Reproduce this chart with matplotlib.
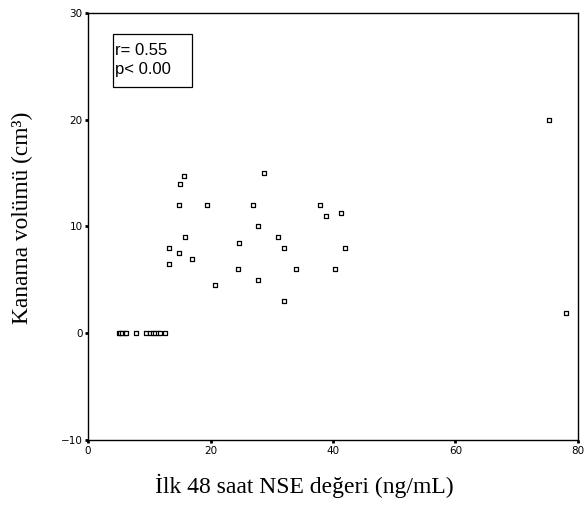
import matplotlib
matplotlib.use("Agg")
import matplotlib.pyplot as plt
from matplotlib.patches import Rectangle

nse = [15.7, 15.1, 14.9, 19.4, 26.9, 28.7, 37.9, 38.8, 41.3, 27.8, 15.9, 31.1,
       24.7, 13.2, 32.0, 42.0, 14.9, 17.0, 13.2, 24.5, 34.0, 40.4, 27.8, 20.8,
       32.0, 75.2, 78.1,
       5.0, 5.3, 5.6, 6.0, 6.2, 7.9, 9.5, 10.2, 10.6, 11.0, 11.4, 11.8, 12.5]
volume = [14.7, 14.0, 12.0, 12.0, 12.0, 15.0, 12.0, 11.0, 11.3, 10.0, 9.0, 9.0,
          8.5, 8.0, 8.0, 8.0, 7.5, 7.0, 6.5, 6.0, 6.0, 6.0, 5.0, 4.5,
          3.0, 20.0, 1.9,
          0, 0, 0, 0, 0, 0, 0, 0, 0, 0, 0, 0, 0]
x_ticks = [0, 20, 40, 60, 80]
y_ticks = [-10, 0, 10, 20, 30]

fig = plt.figure(figsize=(5.84, 5.05), dpi=100)
ax = fig.add_axes([0.1507, 0.1287, 0.8390, 0.8456])
ax.scatter(nse, volume, marker='s', s=11, facecolors='white', edgecolors='black',
           linewidths=0.9, zorder=3)
ax.set_xlim(0, 80)
ax.set_ylim(-10, 30)
ax.set_xticks(x_ticks)
ax.set_yticks(y_ticks)
ax.tick_params(direction='out', length=2, width=2, labelsize=7.5, pad=2)
for s in ax.spines.values():
    s.set_linewidth(1.0)
fig.text(0.521, 0.038, 'İlk 48 saat NSE değeri (ng/mL)', family='Liberation Serif',
         fontsize=17, ha='center', va='center')
fig.text(0.038, 0.568, 'Kanama volümü (cm³)', family='Liberation Serif',
         fontsize=16.8, ha='center', va='center', rotation=90)
ax.add_patch(Rectangle((0.051, 0.827), 0.161, 0.124, transform=ax.transAxes,
                       facecolor='white', edgecolor='black', linewidth=0.9, zorder=4))
ax.text(0.055, 0.930, 'r= 0.55\np< 0.00', transform=ax.transAxes, va='top', ha='left',
        family='Liberation Sans', fontsize=12, linespacing=1.35, zorder=5)
fig.savefig('out.png', dpi=100)
